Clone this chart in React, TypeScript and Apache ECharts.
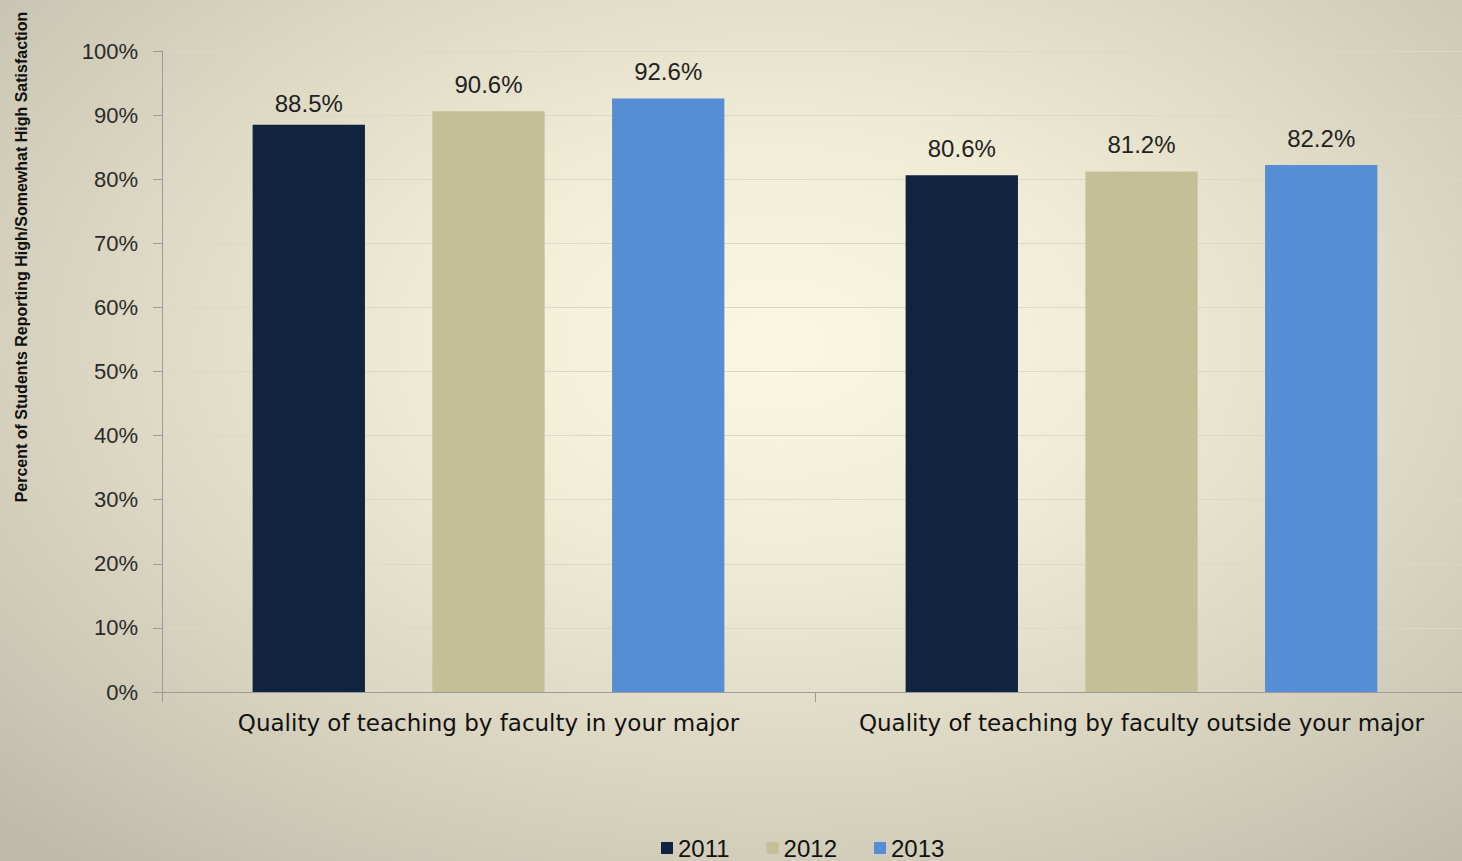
import React, { useEffect, useRef } from "react";
import * as echarts from "echarts";

const categories = [
  "Quality of teaching by faculty in your major",
  "Quality of teaching by faculty outside your major",
];
const years = ["2011", "2012", "2013"];
const values2011 = [88.5, 80.6];
const values2012 = [90.6, 81.2];
const values2013 = [92.6, 82.2];
const yTicks = [0, 10, 20, 30, 40, 50, 60, 70, 80, 90, 100];
const yAxisTitle = "Percent of Students Reporting High/Somewhat High Satisfaction";

const colors = ["#10233f", "#c5bf98", "#558ed5"];

export default function App() {
  const ref = useRef<HTMLDivElement>(null);
  useEffect(() => {
    if (!ref.current) return;
    const chart = echarts.init(ref.current, undefined, { renderer: "svg" });
    const seriesData = [values2011, values2012, values2013];
    chart.setOption({
      animation: false,
      backgroundColor: "transparent",
      textStyle: { fontFamily: "Liberation Sans, Arial, sans-serif" },
      grid: { left: 162, right: 0, top: 51, bottom: 169 },
      legend: {
        left: 656,
        top: 831,
        itemWidth: 12,
        itemHeight: 12,
        itemGap: 37,
        icon: "rect",
        textStyle: { fontSize: 24, color: "#111" },
        data: years,
      },
      xAxis: {
        type: "category",
        data: categories,
        axisLine: { lineStyle: { color: "#9a9a9a", width: 1 } },
        axisTick: { show: true, interval: 0, length: 10, lineStyle: { color: "#9a9a9a" } },
        axisLabel: {
          interval: 0,
          hideOverlap: false,
          fontSize: 23,
          color: "#111",
          margin: 19,
          fontFamily: "DejaVu Sans, Verdana, sans-serif",
        },
      },
      yAxis: {
        type: "value",
        min: yTicks[0],
        max: yTicks[yTicks.length - 1],
        interval: 10,
        axisLine: { show: true, lineStyle: { color: "#9a9a9a", width: 1 } },
        axisTick: { show: true, length: 9, lineStyle: { color: "#9a9a9a" } },
        axisLabel: { fontSize: 22, color: "#2a2a2a", margin: 24, formatter: "{value}%" },
        splitLine: { show: true, lineStyle: { color: "#dcd8c6", width: 1 } },
      },
      graphic: [
        {
          type: "text",
          x: 21,
          y: 257,
          rotation: Math.PI / 2,
          style: {
            text: yAxisTitle,
            fontSize: 16,
            fontWeight: "bold",
            fill: "#111",
            align: "center",
            verticalAlign: "middle",
            fontFamily: "Liberation Sans Narrow, Liberation Sans, Arial, sans-serif",
          },
        },
      ],
      series: years.map((y, i) => ({
        name: y,
        type: "bar",
        data: seriesData[i].map((v, j) =>
          i === 0 && j === 0 ? { value: v, label: { distance: 9 } } : v
        ),
        barWidth: "17.2%",
        barGap: "60%",
        itemStyle: { color: colors[i] },
        label: {
          show: true,
          position: "top",
          distance: 15,
          fontSize: 24,
          color: "#222",
          fontFamily: "Liberation Sans Narrow, Liberation Sans, Arial, sans-serif",
          formatter: (p: any) => p.value.toFixed(1) + "%",
        },
      })),
    });
    return () => chart.dispose();
  }, []);
  return (
    <div
      style={{
        position: "absolute",
        left: 0,
        top: 0,
        width: 1462,
        height: 861,
        overflow: "hidden",
        background:
          "radial-gradient(ellipse 75% 80% at 53% 40%, #fcf7e1 0%, #f1ecd6 30%, #ddd8c3 60%, #c9c6b3 85%, #bdbaa8 100%)",
      }}
    >
      <div ref={ref} style={{ width: 1468, height: 861 }} />
    </div>
  );
}
